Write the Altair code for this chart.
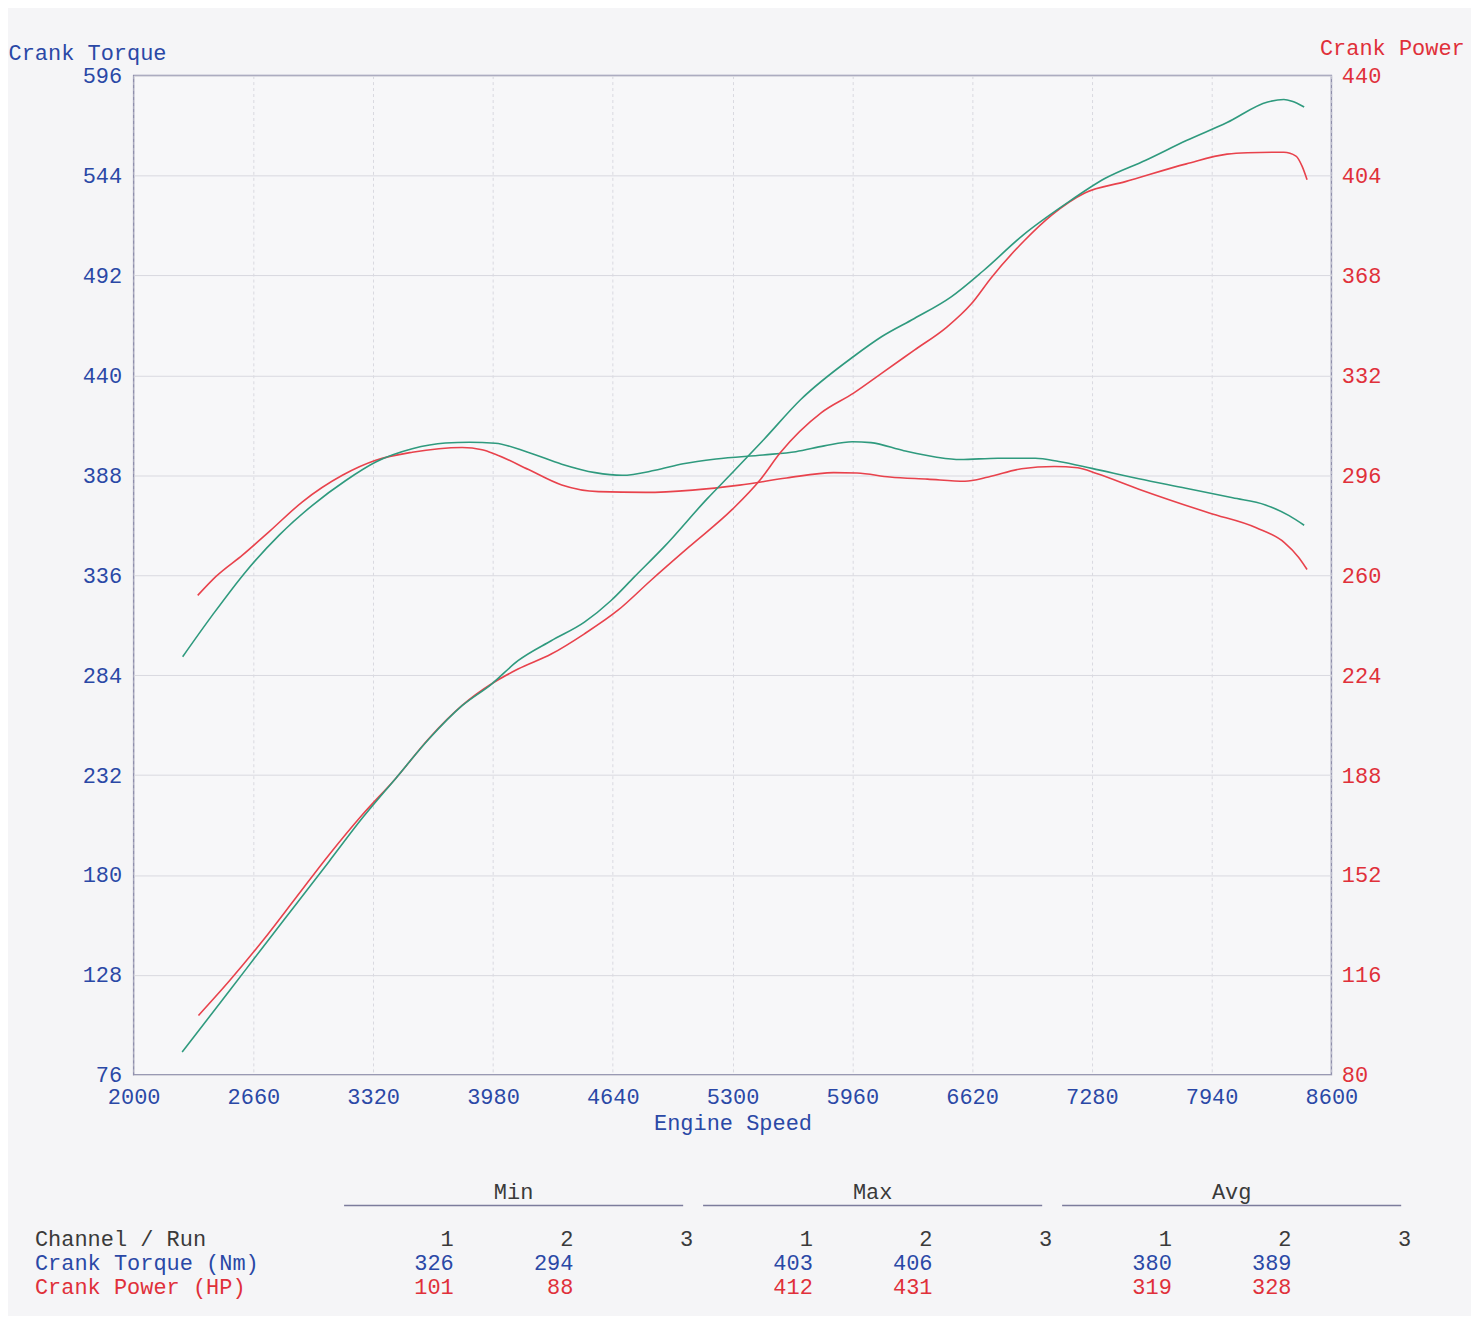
import altair as alt
import pandas as pd

# ---------------- data read from the dyno sheet ----------------
rpm_torque_run1 = [2353, 2454, 2601, 2747, 2930, 3150, 3334, 3535, 3810, 3920, 3993, 4176, 4359, 4562,
                   4821, 5080, 5339, 5598, 5857, 5986, 6167, 6374, 6581, 6710, 6892, 7073, 7202, 7306,
                   7539, 7927, 8186, 8341, 8419, 8466]
torque_run1 = [325.5, 335.4, 346.6, 358.7, 374.2, 388.0, 395.8, 400.0, 402.5, 401.3, 399.0, 391.0, 383.0,
               379.5, 379.1, 380.3, 382.9, 386.6, 389.4, 389.2, 387.1, 386.0, 384.9, 387.1, 391.4, 392.6,
               391.9, 388.9, 380.8, 368.4, 360.7, 353.0, 345.4, 339.0]

rpm_torque_run2 = [2270, 2436, 2619, 2802, 2985, 3169, 3334, 3535, 3718, 3850, 3993, 4176, 4359, 4543,
                   4692, 4873, 5028, 5209, 5468, 5649, 5805, 5960, 6063, 6244, 6425, 6555, 6762, 6969,
                   7098, 7280, 7539, 7798, 8056, 8237, 8367, 8450]
torque_run2 = [293.6, 315.5, 338.0, 356.9, 372.4, 385.3, 394.9, 401.8, 404.8, 405.2, 404.7, 399.9, 393.8,
               389.4, 388.0, 390.6, 394.0, 396.5, 398.6, 400.3, 403.3, 405.5, 405.0, 400.8, 397.4, 396.2,
               396.9, 396.9, 395.2, 391.6, 386.2, 381.3, 376.3, 372.6, 367.0, 362.0]

rpm_power_run1 = [2357, 2528, 2711, 2894, 3077, 3260, 3444, 3627, 3810, 3975, 4118, 4301, 4484, 4667,
                  4851, 5062, 5300, 5455, 5564, 5788, 5967, 6123, 6302, 6481, 6615, 6727, 6906, 7062,
                  7241, 7465, 7801, 8025, 8137, 8338, 8405, 8439, 8466]
power_run1 = [101.4, 113.9, 128.3, 143.8, 159.3, 173.7, 186.8, 201.2, 213.1, 221.0, 226.2, 231.6, 238.9,
              247.3, 258.2, 270.3, 283.8, 294.6, 304.2, 318.5, 325.6, 332.8, 341.1, 349.4, 357.7, 367.3,
              380.4, 389.9, 397.7, 401.8, 408.2, 411.7, 412.2, 412.4, 411.0, 407.3, 402.5]

rpm_power_run2 = [2267, 2528, 2711, 2894, 3077, 3260, 3444, 3627, 3810, 3971, 4118, 4301, 4484, 4631,
                  4759, 4924, 5161, 5300, 5474, 5676, 5967, 6123, 6302, 6503, 6682, 6906, 7130, 7354,
                  7577, 7801, 8025, 8249, 8338, 8383, 8450]
power_run2 = [88.2, 110.3, 125.9, 141.4, 156.9, 172.5, 186.8, 201.0, 213.0, 220.7, 229.2, 236.4, 243.1,
              250.9, 259.4, 270.3, 287.6, 297.0, 309.0, 323.3, 338.8, 346.0, 352.5, 360.2, 369.7, 382.8,
              393.5, 403.0, 409.5, 416.6, 423.1, 430.5, 431.4, 430.8, 428.7]

x_ticks = [2000, 2660, 3320, 3980, 4640, 5300, 5960, 6620, 7280, 7940, 8600]
torque_ticks = [76, 128, 180, 232, 284, 336, 388, 440, 492, 544, 596]
power_ticks = [80, 116, 152, 188, 224, 260, 296, 332, 368, 404, 440]

# summary table
stat_groups = ["Min", "Max", "Avg"]
run_labels = ["1", "2", "3"]
torque_stats = {"Min": [326, 294], "Max": [403, 406], "Avg": [380, 389]}
power_stats = {"Min": [101, 88], "Max": [412, 431], "Avg": [319, 328]}
row_labels = ["Channel / Run", "Crank Torque (Nm)", "Crank Power (HP)"]

# ---------------- styling ----------------
FONT = "Liberation Mono"
FS = 22
BLUE = "#2a48a6"
RED = "#e0303a"
DARK = "#3a3a3a"
LINE_RED = "#e8424c"
LINE_GREEN = "#2f9a7e"
GRID = "#d9d9e0"

torque_df = pd.concat([
    pd.DataFrame({"rpm": rpm_torque_run1, "value": torque_run1, "run": "1"}),
    pd.DataFrame({"rpm": rpm_torque_run2, "value": torque_run2, "run": "2"}),
])
power_df = pd.concat([
    pd.DataFrame({"rpm": rpm_power_run1, "value": power_run1, "run": "1"}),
    pd.DataFrame({"rpm": rpm_power_run2, "value": power_run2, "run": "2"}),
])

xscale = alt.Scale(domain=[2000, 8600], nice=False, zero=False)
color = alt.Color("run:N", scale=alt.Scale(domain=["1", "2"], range=[LINE_RED, LINE_GREEN]), legend=None)

torque = alt.Chart(torque_df).mark_line(strokeWidth=1.6, interpolate="monotone").encode(
    x=alt.X("rpm:Q", scale=xscale,
            axis=alt.Axis(values=x_ticks, format="d", title="Engine Speed", grid=True, gridDash=[3, 3],
                          gridColor=GRID, tickSize=0, domain=False, labelFlush=False, labelOverlap=False,
                          labelPadding=12, labelColor=BLUE, titleColor=BLUE, labelFont=FONT,
                          titleFont=FONT, labelFontSize=FS, titleFontSize=FS, titleFontWeight="normal",
                          titlePadding=5)),
    y=alt.Y("value:Q", scale=alt.Scale(domain=[76, 596], nice=False, zero=False),
            axis=alt.Axis(values=torque_ticks, title="Crank Torque", grid=True, gridColor=GRID,
                          tickSize=0, domain=False, labelPadding=12, labelColor=BLUE, labelFont=FONT,
                          labelFontSize=FS, labelOverlap=False, labelFlush=False,
                          titleColor=BLUE, titleFont=FONT, titleFontSize=FS, titleFontWeight="normal",
                          titleAngle=0, titleAlign="left", titleBaseline="middle",
                          titleX=-126, titleY=-23)),
    color=color,
    detail="run:N",
)

power = alt.Chart(power_df).mark_line(strokeWidth=1.6, interpolate="monotone").encode(
    x=alt.X("rpm:Q", scale=xscale, axis=None),
    y=alt.Y("value:Q", scale=alt.Scale(domain=[80, 440], nice=False, zero=False),
            axis=alt.Axis(orient="right", values=power_ticks, title="Crank Power", grid=False,
                          tickSize=0, domain=False, labelPadding=10, labelColor=RED, labelFont=FONT,
                          labelFontSize=FS, labelOverlap=False, labelFlush=False,
                          titleColor=RED, titleFont=FONT, titleFontSize=FS, titleFontWeight="normal",
                          titleAngle=0, titleAlign="left", titleBaseline="middle",
                          titleX=-12, titleY=-28)),
    color=color,
    detail="run:N",
)

# ---------------- table layers ----------------
col_scale = alt.Scale(domain=[0, 8], range=[321, 1281])
row_scale = alt.Scale(domain=[0, 4], range=[1119, 1215])

head_rows, torque_rows, power_rows, group_rows, rule_rows = [], [], [], [], []
for g, grp in enumerate(stat_groups):
    group_rows.append({"col": 3 * g + 0.5, "row": 0, "text": grp})
    rule_rows.append({"c0": 3 * g + 0.5 - 1.4167, "c1": 3 * g + 0.5 + 1.4167, "row": 0.58})
    for r, lab in enumerate(run_labels):
        head_rows.append({"col": 3 * g + r, "row": 2, "text": lab})
    for r, v in enumerate(torque_stats[grp]):
        torque_rows.append({"col": 3 * g + r, "row": 3, "text": str(v)})
    for r, v in enumerate(power_stats[grp]):
        power_rows.append({"col": 3 * g + r, "row": 4, "text": str(v)})

label_rows = [{"col": -3.5, "row": 2 + i, "text": t} for i, t in enumerate(row_labels)]


def text_layer(rows, align, colr):
    return alt.Chart(pd.DataFrame(rows)).mark_text(
        font=FONT, fontSize=FS, align=align, baseline="middle"
    ).encode(
        x=alt.X("col:Q", scale=col_scale, axis=None),
        y=alt.Y("row:Q", scale=row_scale, axis=None),
        text="text:N",
        color=colr,
    )


heads = text_layer(head_rows, "right", alt.value(DARK))
t_vals = text_layer(torque_rows, "right", alt.value(BLUE))
p_vals = text_layer(power_rows, "right", alt.value(RED))
groups = text_layer(group_rows, "center", alt.value(DARK))
labels = alt.Chart(pd.DataFrame(label_rows)).mark_text(
    font=FONT, fontSize=FS, align="left", baseline="middle"
).encode(
    x=alt.X("col:Q", scale=col_scale, axis=None),
    y=alt.Y("row:Q", scale=row_scale, axis=None),
    text="text:N",
    color=alt.Color("row:O", scale=alt.Scale(domain=[2, 3, 4], range=[DARK, BLUE, RED]), legend=None),
)
rules = alt.Chart(pd.DataFrame(rule_rows)).mark_rule(color="#7c7c9c", strokeWidth=1.6).encode(
    x=alt.X("c0:Q", scale=col_scale, axis=None),
    x2="c1:Q",
    y=alt.Y("row:Q", scale=row_scale, axis=None),
)

chart = alt.layer(torque, power, heads, t_vals, p_vals, groups, labels, rules).resolve_scale(
    x="independent", y="independent", color="independent"
).properties(
    width=1201,
    height=1002,
    padding={"left": 126, "top": 66, "right": 140, "bottom": 240},
    autosize=alt.AutoSizeParams(type="none"),
    background="#f5f5f7",
).configure_view(
    stroke="#8f8fac", strokeWidth=1.5, fill="#f7f7f9"
)

chart.save("out.html", embed_options={"renderer": "svg", "actions": False})
